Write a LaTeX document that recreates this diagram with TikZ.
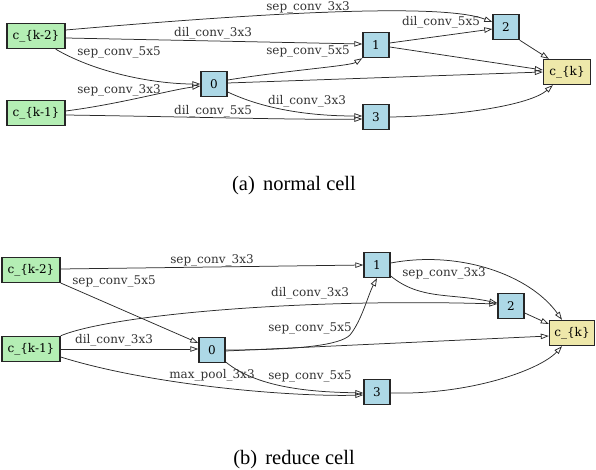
\documentclass[tikz,border=0pt]{standalone}
\usepackage{fontspec}
\setmainfont{DejaVu Serif}
\newfontfamily\capfont{Liberation Serif}
\usetikzlibrary{arrows.meta}
\definecolor{ingreen}{HTML}{B4EEB4}
\definecolor{opblue}{HTML}{ADD8E6}
\definecolor{outyellow}{HTML}{EEE8AA}
\definecolor{edgegray}{HTML}{2A2A2A}
\tikzset{
  box/.style={draw=black!85, line width=1.4pt, inner sep=0pt, minimum height=25pt, font=\fontsize{12}{13}\selectfont},
  inbox/.style={box, fill=ingreen, minimum width=58pt},
  opbox/.style={box, fill=opblue, minimum width=26pt},
  outbox/.style={box, fill=outyellow, minimum width=47pt},
  edge/.style={draw=edgegray, line width=0.75pt, -{Triangle[open, length=8pt, width=5.5pt]}},
  lbl/.style={inner sep=0pt, font=\fontsize{12}{13}\selectfont, text=black!80},
  captext/.style={inner sep=0pt, font=\capfont\fontsize{20.5}{22}\selectfont}
}
\begin{document}
\begin{tikzpicture}[x=1pt,y=-1pt]
\useasboundingbox (0,0) rectangle (596,470);
% ---------- (a) normal cell ----------
\node[inbox] (ak2) at (36,36) {c\_\{k-2\}};
\node[inbox] (ak1) at (36,113) {c\_\{k-1\}};
\node[opbox] (a0) at (214,84) {0};
\node[opbox] (a1) at (376,45) {1};
\node[opbox] (a2) at (506,27) {2};
\node[opbox] (a3) at (376,117) {3};
\node[outbox] (ack) at (567,72) {c\_\{k\}};

\draw[edge] (ak2.east |- 0,30) .. controls (250,14) and (440,2) .. (a2.west |- 0,22);
\draw[edge] (ak2.east |- 0,38) -- (a1.west |- 0,44);
\draw[edge] ([xshift=-10pt]ak2.south east) .. controls (100,75) and (160,84) .. (a0.west |- 0,84);
\draw[edge] (ak1.east |- 0,111) .. controls (120,104) and (170,90) .. (a0.west |- 0,86);
\draw[edge] (ak1.east |- 0,115) .. controls (200,117) and (300,120) .. (a3.west |- 0,119);
\draw[edge] (a0.east |- 0,80) .. controls (290,70) and (350,66) .. (a1.south west);
\draw[edge] (a0.east |- 0,83) -- (ack.west |- 0,72);
\draw[edge] (a0.east |- 0,92) .. controls (270,112) and (320,116) .. (a3.west |- 0,116);
\draw[edge] (a1.east |- 0,43) -- (a2.west |- 0,29);
\draw[edge] (a1.east |- 0,47) -- (ack.west |- 0,70);
\draw[edge] (a2.south east) -- ([xshift=6pt]ack.north west);
\draw[edge] (a3.east |- 0,117) .. controls (460,116) and (530,105) .. ([xshift=10pt]ack.south west);

\node[lbl] at (308,7) {sep\_conv\_3x3};
\node[lbl] at (213,33) {dil\_conv\_3x3};
\node[lbl] at (119,53) {sep\_conv\_5x5};
\node[lbl] at (308,52) {sep\_conv\_5x5};
\node[lbl] at (441,22) {dil\_conv\_5x5};
\node[lbl] at (119,90) {sep\_conv\_3x3};
\node[lbl] at (213,111) {dil\_conv\_5x5};
\node[lbl] at (307,101) {dil\_conv\_3x3};

\node[captext] (capa) at (294,186) {(a)\hspace{0.4em}normal cell};

% ---------- (b) reduce cell ----------
\node[inbox] (bk2) at (31,270) {c\_\{k-2\}};
\node[inbox] (bk1) at (31,349) {c\_\{k-1\}};
\node[opbox] (b0) at (212,350) {0};
\node[opbox] (b1) at (377,265) {1};
\node[opbox] (b2) at (511,306) {2};
\node[opbox] (b3) at (377,392) {3};
\node[outbox, minimum width=45pt] (bck) at (572,333) {c\_\{k\}};

\draw[edge] (bk2.east |- 0,269) -- (b1.west |- 0,265);
\draw[edge] (bk2.east |- 0,283) -- (b0.west |- 0,343);
\draw[edge] (bk1.north east) .. controls (110,315) and (300,298) .. (b2.west |- 0,304);
\draw[edge] (bk1.east |- 0,349) -- (b0.west |- 0,349);
\draw[edge] (bk1.east |- 0,357) .. controls (150,385) and (290,397) .. (b3.west |- 0,395);
\draw[edge] (b0.east |- 0,350) .. controls (300,350) and (340,345) .. (350,335) .. controls (362,320) and (368,295) .. (b1.south);
\draw[edge] (b0.east |- 0,351) -- (bck.west |- 0,336);
\draw[edge] (b0.east |- 0,362) .. controls (260,390) and (320,392) .. (b3.west |- 0,393);
\draw[edge] (b1.east |- 0,276) .. controls (420,300) and (450,293) .. (b2.west |- 0,303);
\draw[edge] (b1.east |- 0,263) .. controls (460,250) and (530,275) .. ([xshift=-10pt]bck.north);
\draw[edge] (b2.east |- 0,313) -- (bck.west |- 0,324);
\draw[edge] (b3.east |- 0,393) .. controls (470,395) and (540,370) .. ([xshift=-10pt]bck.south);

\node[lbl] at (212,260) {sep\_conv\_3x3};
\node[lbl] at (114,282) {sep\_conv\_5x5};
\node[lbl] at (310,293) {dil\_conv\_3x3};
\node[lbl] at (310,329) {sep\_conv\_5x5};
\node[lbl] at (114,340) {dil\_conv\_3x3};
\node[lbl] at (212,375) {max\_pool\_3x3};
\node[lbl] at (310,377) {sep\_conv\_5x5};
\node[lbl] at (444,273) {sep\_conv\_3x3};

\node[captext] (capb) at (294,460) {(b)\hspace{0.4em}reduce cell};
\end{tikzpicture}
\end{document}
